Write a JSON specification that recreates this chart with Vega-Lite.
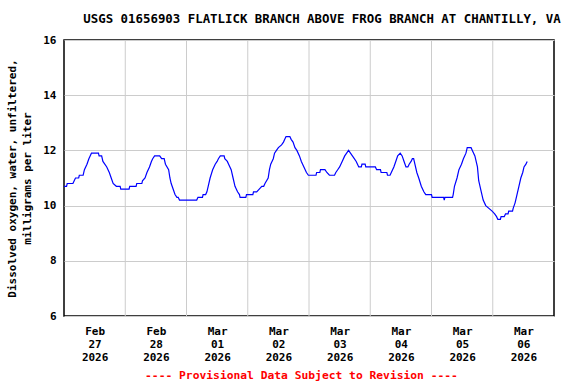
{
  "$schema": "https://vega.github.io/schema/vega-lite/v6.json",
  "autosize": "none",
  "width": 490,
  "height": 276,
  "padding": {"left": 64, "top": 40, "right": 22, "bottom": 68},
  "background": "white",
  "title": {
    "text": "USGS 01656903 FLATLICK BRANCH ABOVE FROG BRANCH AT CHANTILLY, VA",
    "font": "DejaVu Sans Mono",
    "fontSize": 12.4,
    "fontWeight": "bold",
    "color": "black",
    "anchor": "middle",
    "dx": 13,
    "offset": 9
  },
  "config": {
    "view": {"stroke": "black", "strokeWidth": 1.5},
    "axis": {
      "labelFont": "DejaVu Sans Mono",
      "labelFontWeight": "bold",
      "labelFontSize": 11,
      "labelColor": "black",
      "titleFont": "DejaVu Sans Mono",
      "titleFontWeight": "bold",
      "titleFontSize": 11,
      "titleColor": "black"
    }
  },
  "datasets": {
    "grid": [
      {"t": "2026-02-28 00:00"},
      {"t": "2026-03-01 00:00"},
      {"t": "2026-03-02 00:00"},
      {"t": "2026-03-03 00:00"},
      {"t": "2026-03-04 00:00"},
      {"t": "2026-03-05 00:00"},
      {"t": "2026-03-06 00:00"}
    ],
    "obs": [
      {"t": "2026-02-27 00:00", "v": 10.7},
      {"t": "2026-02-27 01:00", "v": 10.7},
      {"t": "2026-02-27 01:15", "v": 10.8},
      {"t": "2026-02-27 03:30", "v": 10.8},
      {"t": "2026-02-27 04:00", "v": 10.9},
      {"t": "2026-02-27 04:30", "v": 11.0},
      {"t": "2026-02-27 05:45", "v": 11.0},
      {"t": "2026-02-27 06:00", "v": 11.1},
      {"t": "2026-02-27 07:30", "v": 11.1},
      {"t": "2026-02-27 08:00", "v": 11.3},
      {"t": "2026-02-27 09:00", "v": 11.5},
      {"t": "2026-02-27 09:45", "v": 11.7},
      {"t": "2026-02-27 10:15", "v": 11.8},
      {"t": "2026-02-27 10:45", "v": 11.9},
      {"t": "2026-02-27 13:30", "v": 11.9},
      {"t": "2026-02-27 13:45", "v": 11.8},
      {"t": "2026-02-27 14:45", "v": 11.8},
      {"t": "2026-02-27 15:15", "v": 11.6},
      {"t": "2026-02-27 16:45", "v": 11.4},
      {"t": "2026-02-27 17:45", "v": 11.2},
      {"t": "2026-02-27 18:30", "v": 11.0},
      {"t": "2026-02-27 19:15", "v": 10.8},
      {"t": "2026-02-27 20:30", "v": 10.7},
      {"t": "2026-02-27 22:00", "v": 10.7},
      {"t": "2026-02-27 22:15", "v": 10.6},
      {"t": "2026-02-28 01:30", "v": 10.6},
      {"t": "2026-02-28 01:45", "v": 10.7},
      {"t": "2026-02-28 04:15", "v": 10.7},
      {"t": "2026-02-28 04:30", "v": 10.8},
      {"t": "2026-02-28 06:30", "v": 10.8},
      {"t": "2026-02-28 06:45", "v": 10.9},
      {"t": "2026-02-28 07:45", "v": 11.0},
      {"t": "2026-02-28 08:30", "v": 11.2},
      {"t": "2026-02-28 09:30", "v": 11.4},
      {"t": "2026-02-28 10:15", "v": 11.6},
      {"t": "2026-02-28 10:45", "v": 11.7},
      {"t": "2026-02-28 11:30", "v": 11.8},
      {"t": "2026-02-28 13:30", "v": 11.8},
      {"t": "2026-02-28 14:15", "v": 11.7},
      {"t": "2026-02-28 15:15", "v": 11.7},
      {"t": "2026-02-28 15:45", "v": 11.5},
      {"t": "2026-02-28 17:00", "v": 11.3},
      {"t": "2026-02-28 17:30", "v": 11.0},
      {"t": "2026-02-28 18:00", "v": 10.8},
      {"t": "2026-02-28 18:45", "v": 10.6},
      {"t": "2026-02-28 19:30", "v": 10.4},
      {"t": "2026-02-28 20:15", "v": 10.3},
      {"t": "2026-02-28 20:45", "v": 10.3},
      {"t": "2026-02-28 21:15", "v": 10.2},
      {"t": "2026-03-01 04:00", "v": 10.2},
      {"t": "2026-03-01 04:30", "v": 10.3},
      {"t": "2026-03-01 06:15", "v": 10.3},
      {"t": "2026-03-01 06:30", "v": 10.4},
      {"t": "2026-03-01 07:30", "v": 10.4},
      {"t": "2026-03-01 08:00", "v": 10.5},
      {"t": "2026-03-01 08:30", "v": 10.7},
      {"t": "2026-03-01 09:15", "v": 11.0},
      {"t": "2026-03-01 10:15", "v": 11.3},
      {"t": "2026-03-01 11:15", "v": 11.5},
      {"t": "2026-03-01 12:00", "v": 11.6},
      {"t": "2026-03-01 12:30", "v": 11.7},
      {"t": "2026-03-01 13:15", "v": 11.8},
      {"t": "2026-03-01 14:45", "v": 11.8},
      {"t": "2026-03-01 15:00", "v": 11.7},
      {"t": "2026-03-01 16:00", "v": 11.6},
      {"t": "2026-03-01 16:30", "v": 11.5},
      {"t": "2026-03-01 17:30", "v": 11.3},
      {"t": "2026-03-01 18:15", "v": 11.0},
      {"t": "2026-03-01 19:00", "v": 10.7},
      {"t": "2026-03-01 20:00", "v": 10.5},
      {"t": "2026-03-01 20:45", "v": 10.4},
      {"t": "2026-03-01 21:00", "v": 10.3},
      {"t": "2026-03-01 23:15", "v": 10.3},
      {"t": "2026-03-01 23:30", "v": 10.4},
      {"t": "2026-03-02 02:00", "v": 10.4},
      {"t": "2026-03-02 02:15", "v": 10.5},
      {"t": "2026-03-02 03:30", "v": 10.5},
      {"t": "2026-03-02 04:30", "v": 10.6},
      {"t": "2026-03-02 05:30", "v": 10.7},
      {"t": "2026-03-02 06:15", "v": 10.7},
      {"t": "2026-03-02 06:45", "v": 10.8},
      {"t": "2026-03-02 08:00", "v": 11.0},
      {"t": "2026-03-02 08:30", "v": 11.3},
      {"t": "2026-03-02 09:00", "v": 11.5},
      {"t": "2026-03-02 10:00", "v": 11.7},
      {"t": "2026-03-02 10:30", "v": 11.9},
      {"t": "2026-03-02 11:15", "v": 12.0},
      {"t": "2026-03-02 12:00", "v": 12.1},
      {"t": "2026-03-02 13:15", "v": 12.2},
      {"t": "2026-03-02 14:00", "v": 12.3},
      {"t": "2026-03-02 14:30", "v": 12.4},
      {"t": "2026-03-02 15:00", "v": 12.5},
      {"t": "2026-03-02 16:30", "v": 12.5},
      {"t": "2026-03-02 17:00", "v": 12.4},
      {"t": "2026-03-02 17:45", "v": 12.3},
      {"t": "2026-03-02 18:30", "v": 12.1},
      {"t": "2026-03-02 19:15", "v": 12.0},
      {"t": "2026-03-02 20:15", "v": 11.8},
      {"t": "2026-03-02 21:00", "v": 11.6},
      {"t": "2026-03-02 22:00", "v": 11.4},
      {"t": "2026-03-02 23:00", "v": 11.2},
      {"t": "2026-03-02 23:45", "v": 11.1},
      {"t": "2026-03-03 02:45", "v": 11.1},
      {"t": "2026-03-03 03:00", "v": 11.2},
      {"t": "2026-03-03 04:15", "v": 11.2},
      {"t": "2026-03-03 04:30", "v": 11.3},
      {"t": "2026-03-03 06:15", "v": 11.3},
      {"t": "2026-03-03 07:00", "v": 11.2},
      {"t": "2026-03-03 08:00", "v": 11.1},
      {"t": "2026-03-03 10:00", "v": 11.1},
      {"t": "2026-03-03 10:30", "v": 11.2},
      {"t": "2026-03-03 11:15", "v": 11.3},
      {"t": "2026-03-03 12:00", "v": 11.4},
      {"t": "2026-03-03 13:00", "v": 11.6},
      {"t": "2026-03-03 14:00", "v": 11.8},
      {"t": "2026-03-03 14:45", "v": 11.9},
      {"t": "2026-03-03 15:30", "v": 12.0},
      {"t": "2026-03-03 16:15", "v": 11.9},
      {"t": "2026-03-03 17:00", "v": 11.8},
      {"t": "2026-03-03 17:45", "v": 11.7},
      {"t": "2026-03-03 18:30", "v": 11.6},
      {"t": "2026-03-03 19:00", "v": 11.5},
      {"t": "2026-03-03 19:30", "v": 11.4},
      {"t": "2026-03-03 20:30", "v": 11.4},
      {"t": "2026-03-03 20:45", "v": 11.5},
      {"t": "2026-03-03 22:00", "v": 11.5},
      {"t": "2026-03-03 22:15", "v": 11.4},
      {"t": "2026-03-04 02:00", "v": 11.4},
      {"t": "2026-03-04 02:30", "v": 11.3},
      {"t": "2026-03-04 04:00", "v": 11.3},
      {"t": "2026-03-04 04:15", "v": 11.2},
      {"t": "2026-03-04 06:30", "v": 11.2},
      {"t": "2026-03-04 06:45", "v": 11.1},
      {"t": "2026-03-04 07:45", "v": 11.1},
      {"t": "2026-03-04 08:15", "v": 11.2},
      {"t": "2026-03-04 09:15", "v": 11.4},
      {"t": "2026-03-04 10:00", "v": 11.6},
      {"t": "2026-03-04 10:45", "v": 11.8},
      {"t": "2026-03-04 11:45", "v": 11.9},
      {"t": "2026-03-04 12:30", "v": 11.8},
      {"t": "2026-03-04 13:15", "v": 11.6},
      {"t": "2026-03-04 14:00", "v": 11.4},
      {"t": "2026-03-04 14:45", "v": 11.4},
      {"t": "2026-03-04 15:15", "v": 11.5},
      {"t": "2026-03-04 16:00", "v": 11.6},
      {"t": "2026-03-04 16:30", "v": 11.7},
      {"t": "2026-03-04 17:00", "v": 11.7},
      {"t": "2026-03-04 17:30", "v": 11.5},
      {"t": "2026-03-04 18:15", "v": 11.2},
      {"t": "2026-03-04 19:00", "v": 11.0},
      {"t": "2026-03-04 20:00", "v": 10.7},
      {"t": "2026-03-04 21:00", "v": 10.5},
      {"t": "2026-03-04 21:45", "v": 10.4},
      {"t": "2026-03-05 00:00", "v": 10.4},
      {"t": "2026-03-05 00:15", "v": 10.3},
      {"t": "2026-03-05 04:45", "v": 10.3},
      {"t": "2026-03-05 05:00", "v": 10.2},
      {"t": "2026-03-05 05:15", "v": 10.3},
      {"t": "2026-03-05 08:15", "v": 10.3},
      {"t": "2026-03-05 08:30", "v": 10.4},
      {"t": "2026-03-05 09:00", "v": 10.7},
      {"t": "2026-03-05 10:00", "v": 11.0},
      {"t": "2026-03-05 10:45", "v": 11.3},
      {"t": "2026-03-05 11:45", "v": 11.5},
      {"t": "2026-03-05 12:30", "v": 11.7},
      {"t": "2026-03-05 13:30", "v": 11.9},
      {"t": "2026-03-05 14:00", "v": 12.1},
      {"t": "2026-03-05 15:30", "v": 12.1},
      {"t": "2026-03-05 16:00", "v": 12.0},
      {"t": "2026-03-05 17:00", "v": 11.8},
      {"t": "2026-03-05 18:00", "v": 11.4},
      {"t": "2026-03-05 18:30", "v": 10.9},
      {"t": "2026-03-05 19:30", "v": 10.5},
      {"t": "2026-03-05 20:15", "v": 10.2},
      {"t": "2026-03-05 21:15", "v": 10.0},
      {"t": "2026-03-05 22:30", "v": 9.9},
      {"t": "2026-03-05 23:45", "v": 9.8},
      {"t": "2026-03-06 00:45", "v": 9.7},
      {"t": "2026-03-06 01:30", "v": 9.6},
      {"t": "2026-03-06 02:00", "v": 9.5},
      {"t": "2026-03-06 03:00", "v": 9.5},
      {"t": "2026-03-06 03:15", "v": 9.6},
      {"t": "2026-03-06 04:30", "v": 9.6},
      {"t": "2026-03-06 05:00", "v": 9.7},
      {"t": "2026-03-06 06:00", "v": 9.7},
      {"t": "2026-03-06 06:15", "v": 9.8},
      {"t": "2026-03-06 07:45", "v": 9.8},
      {"t": "2026-03-06 08:00", "v": 9.9},
      {"t": "2026-03-06 08:45", "v": 10.1},
      {"t": "2026-03-06 09:30", "v": 10.4},
      {"t": "2026-03-06 10:15", "v": 10.7},
      {"t": "2026-03-06 11:00", "v": 11.0},
      {"t": "2026-03-06 11:45", "v": 11.2},
      {"t": "2026-03-06 12:15", "v": 11.4},
      {"t": "2026-03-06 13:00", "v": 11.5},
      {"t": "2026-03-06 13:30", "v": 11.6}
    ]
  },
  "layer": [
    {
      "data": {"name": "grid", "format": {"parse": {"t": "utc:'%Y-%m-%d %H:%M'"}}},
      "mark": {"type": "rule", "color": "#cccccc", "strokeWidth": 1},
      "encoding": {
        "x": {"field": "t", "type": "temporal"}
      }
    },
    {
      "data": {"name": "obs", "format": {"parse": {"t": "utc:'%Y-%m-%d %H:%M'"}}},
      "mark": {"type": "line", "color": "#0000ff", "strokeWidth": 1.2, "interpolate": "linear"},
      "encoding": {
        "x": {
          "field": "t",
          "type": "temporal",
          "scale": {
            "type": "utc",
            "domain": [
              {"year": 2026, "month": 2, "date": 27, "hours": 0, "utc": true},
              {"year": 2026, "month": 3, "date": 7, "hours": 0, "utc": true}
            ]
          },
          "axis": {
            "values": [
              {"year": 2026, "month": 2, "date": 27, "hours": 12, "utc": true},
              {"year": 2026, "month": 2, "date": 28, "hours": 12, "utc": true},
              {"year": 2026, "month": 3, "date": 1, "hours": 12, "utc": true},
              {"year": 2026, "month": 3, "date": 2, "hours": 12, "utc": true},
              {"year": 2026, "month": 3, "date": 3, "hours": 12, "utc": true},
              {"year": 2026, "month": 3, "date": 4, "hours": 12, "utc": true},
              {"year": 2026, "month": 3, "date": 5, "hours": 12, "utc": true},
              {"year": 2026, "month": 3, "date": 6, "hours": 12, "utc": true}
            ],
            "labelExpr": "[utcFormat(datum.value, '%b'), utcFormat(datum.value, '%d'), utcFormat(datum.value, '%Y')]",
            "labelLineHeight": 13,
            "labelBaseline": "top",
            "labelAngle": 0,
            "labelOverlap": false,
            "labelPadding": 9,
            "grid": false,
            "ticks": false,
            "domain": false,
            "title": "---- Provisional Data Subject to Revision ----",
            "titleColor": "#ff0000",
            "titleFontSize": 11.3,
            "titlePadding": 7,
            "titleX": 237
          }
        },
        "y": {
          "field": "v",
          "type": "quantitative",
          "scale": {"domain": [6, 16], "nice": false, "zero": false},
          "axis": {
            "values": [6, 8, 10, 12, 14, 16],
            "grid": true,
            "gridColor": "#cccccc",
            "gridOpacity": 1,
            "ticks": false,
            "domain": false,
            "labelPadding": 8,
            "title": ["Dissolved oxygen, water, unfiltered,", "milligrams per liter"],
            "titlePadding": 10,
            "titleLineHeight": 15
          }
        }
      }
    }
  ]
}
